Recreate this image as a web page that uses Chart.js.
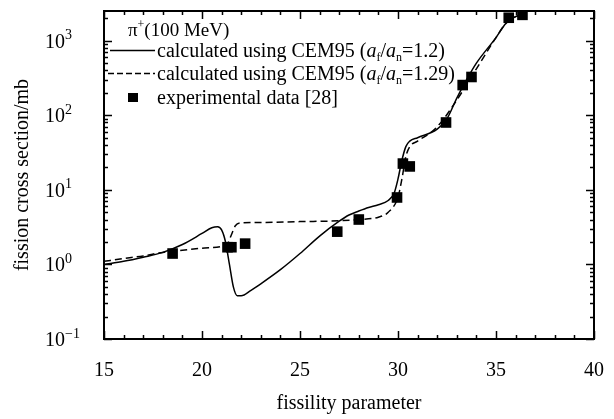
<!DOCTYPE html>
<html>
<head>
<meta charset="utf-8">
<script src="https://cdn.jsdelivr.net/npm/chart.js@4/dist/chart.umd.min.js"></script>
<style>
  html, body { margin: 0; padding: 0; background: #fff; }
  #wrap { width: 614px; height: 419px; position: relative; }
</style>
</head>
<body>
<div id="wrap"><canvas id="c" width="614" height="419"></canvas></div>
<script>
// Fission cross sections vs. fissility parameter, pi+ at 100 MeV
const calcX_12 = [15, 16, 17, 18, 19, 20, 20.5, 20.8, 21.0, 21.2, 21.4, 21.6, 21.8, 22.0, 22.5, 23, 24, 25, 26, 27, 27.5, 28, 28.5, 29, 29.5, 29.8, 30.0, 30.2, 30.4, 30.6, 31, 32, 32.5, 33, 33.5, 34, 35, 35.5, 36, 36.4];
const calcY_12 = [1.0, 1.1, 1.25, 1.45, 1.85, 2.6, 3.1, 3.2, 2.9, 2.0, 1.0, 0.5, 0.38, 0.38, 0.45, 0.55, 0.85, 1.4, 2.4, 3.8, 4.6, 5.2, 5.8, 6.3, 7.2, 9, 14, 25, 38, 45, 50, 65, 90, 170, 300, 500, 1100, 1700, 2100, 2200];

const calcX_129 = [15, 16, 17, 18, 19, 20, 21, 21.3, 21.5, 21.7, 22, 23, 25, 27, 28, 29, 29.5, 30, 30.2, 30.4, 30.6, 31, 32, 33, 34, 35, 35.5, 36, 36.4];
const calcY_129 = [1.1, 1.2, 1.3, 1.45, 1.55, 1.65, 1.75, 1.9, 2.5, 3.3, 3.6, 3.65, 3.75, 3.85, 4.0, 4.3, 5, 8, 14, 28, 38, 45, 70, 160, 420, 1100, 1700, 2100, 2250];

const expX = [18.5, 21.3, 21.5, 22.2, 26.9, 28.0, 29.95, 30.25, 30.6, 32.45, 33.3, 33.75, 35.65, 36.35];
const expY = [1.4, 1.7, 1.7, 1.9, 2.75, 4.0, 7.9, 22.5, 20.6, 80, 254, 326, 2030, 2220];

const xTickValues = [15, 20, 25, 30, 35, 40];
const yTickExponents = [-1, 0, 1, 2, 3];

const X_MIN = 15, X_MAX = 40, Y_MIN = 0.1, Y_MAX = 2500;
const SERIF = '"Liberation Serif", "Times New Roman", serif';
const FS = 20;

function pts(xs, ys) { return xs.map((x, i) => ({ x: x, y: ys[i] })); }

// Draw a run of text pieces: {t, style:'n'|'i', pos:'n'|'sup'|'sub'}
function drawRuns(ctx, x, y, runs, size, ratio) {
  let cx = x;
  for (const r of runs) {
    const small = r.pos && r.pos !== 'n';
    const fs = small ? Math.round(size * (ratio || 0.62)) : size;
    ctx.font = (r.style === 'i' ? 'italic ' : '') + fs + 'px ' + SERIF;
    let dy = 0;
    if (r.pos === 'sup') dy = -size * 0.42;
    if (r.pos === 'sub') dy = size * 0.22;
    ctx.fillText(r.t, cx, y + dy);
    cx += ctx.measureText(r.t).width;
  }
  return cx;
}

const frame = {
  id: 'frame',
  afterDatasetsDraw(chart) {
    const { ctx, chartArea: a } = chart;
    const xs = chart.scales.x, ys = chart.scales.y;
    ctx.save();
    ctx.strokeStyle = '#000';
    ctx.fillStyle = '#000';
    // box
    ctx.lineWidth = 2;
    ctx.strokeRect(a.left, a.top, a.right - a.left, a.bottom - a.top);
    // x ticks (inward, top and bottom)
    ctx.lineWidth = 1.5;
    ctx.beginPath();
    for (let v = X_MIN; v <= X_MAX; v++) {
      const px = Math.round(xs.getPixelForValue(v)) + 0.5;
      const len = v % 5 === 0 ? 8 : 4;
      ctx.moveTo(px, a.bottom); ctx.lineTo(px, a.bottom - len);
      ctx.moveTo(px, a.top); ctx.lineTo(px, a.top + len);
    }
    // y ticks (inward, left and right)
    for (let e = -1; e <= 3; e++) {
      for (let m = 1; m <= 9; m++) {
        const v = m * Math.pow(10, e);
        if (v < Y_MIN || v > Y_MAX) continue;
        const py = Math.round(ys.getPixelForValue(v)) + 0.5;
        const len = m === 1 ? 8 : 4;
        ctx.moveTo(a.left, py); ctx.lineTo(a.left + len, py);
        ctx.moveTo(a.right, py); ctx.lineTo(a.right - len, py);
      }
    }
    ctx.stroke();

    // tick labels
    ctx.textBaseline = 'alphabetic';
    ctx.textAlign = 'center';
    ctx.font = FS + 'px ' + SERIF;
    for (const v of xTickValues) {
      ctx.fillText(String(v), xs.getPixelForValue(v), 376);
    }
    ctx.textAlign = 'left';
    for (const e of yTickExponents) {
      const py = ys.getPixelForValue(Math.pow(10, e));
      drawRuns(ctx, 45, py + 7, [{ t: '10' }, { t: e < 0 ? '\u2212' + (-e) : String(e), pos: 'sup' }], FS, 0.7);
    }

    // axis titles
    ctx.font = FS + 'px ' + SERIF;
    ctx.textAlign = 'center';
    ctx.fillText('fissility parameter', (a.left + a.right) / 2, 409);
    ctx.save();
    ctx.translate(28, (a.top + a.bottom) / 2);
    ctx.rotate(-Math.PI / 2);
    ctx.fillText('fission cross section/mb', 0, 0);
    ctx.restore();

    // legend
    ctx.textAlign = 'left';
    const L = a.left;
    drawRuns(ctx, L + 24, 36, [{ t: '\u03c0' }, { t: '+', pos: 'sup' }, { t: '(100 MeV)' }], 19);

    ctx.lineWidth = 1.5;
    ctx.setLineDash([]);
    ctx.beginPath(); ctx.moveTo(L + 6, 50.5); ctx.lineTo(L + 51, 50.5); ctx.stroke();
    drawRuns(ctx, L + 53, 57, [
      { t: 'calculated using CEM95 (' }, { t: 'a', style: 'i' }, { t: 'f', pos: 'sub' },
      { t: '/' }, { t: 'a', style: 'i' }, { t: 'n', pos: 'sub' }, { t: '=1.2)' }], FS);

    ctx.setLineDash([6, 3]);
    ctx.beginPath(); ctx.moveTo(L + 4, 73.5); ctx.lineTo(L + 51, 73.5); ctx.stroke();
    ctx.setLineDash([]);
    drawRuns(ctx, L + 53, 80, [
      { t: 'calculated using CEM95 (' }, { t: 'a', style: 'i' }, { t: 'f', pos: 'sub' },
      { t: '/' }, { t: 'a', style: 'i' }, { t: 'n', pos: 'sub' }, { t: '=1.29)' }], FS);

    ctx.fillRect(L + 24, 93, 10, 9);
    drawRuns(ctx, L + 53, 104, [{ t: 'experimental data [28]' }], FS);
    ctx.restore();
  }
};

new Chart(document.getElementById('c'), {
  type: 'line',
  data: {
    datasets: [
      {
        label: 'calc 1.2',
        data: pts(calcX_12, calcY_12),
        borderColor: '#000', borderWidth: 1.5, pointRadius: 0,
        cubicInterpolationMode: 'monotone', fill: false
      },
      {
        label: 'calc 1.29',
        data: pts(calcX_129, calcY_129),
        borderColor: '#000', borderWidth: 1.5, borderDash: [7, 4], pointRadius: 0,
        cubicInterpolationMode: 'monotone', fill: false
      },
      {
        label: 'exp',
        data: pts(expX, expY),
        showLine: false, pointStyle: 'rect', pointRadius: 7.5,
        pointBackgroundColor: '#000', pointBorderColor: '#000', pointBorderWidth: 0
      }
    ]
  },
  options: {
    responsive: false,
    animation: false,
    layout: { padding: { left: 104, right: 20, top: 11, bottom: 80 } },
    scales: {
      x: { type: 'linear', min: X_MIN, max: X_MAX, display: false },
      y: { type: 'logarithmic', min: Y_MIN, max: Y_MAX, display: false }
    },
    plugins: { legend: { display: false }, tooltip: { enabled: false } }
  },
  plugins: [frame]
});
</script>
</body>
</html>
